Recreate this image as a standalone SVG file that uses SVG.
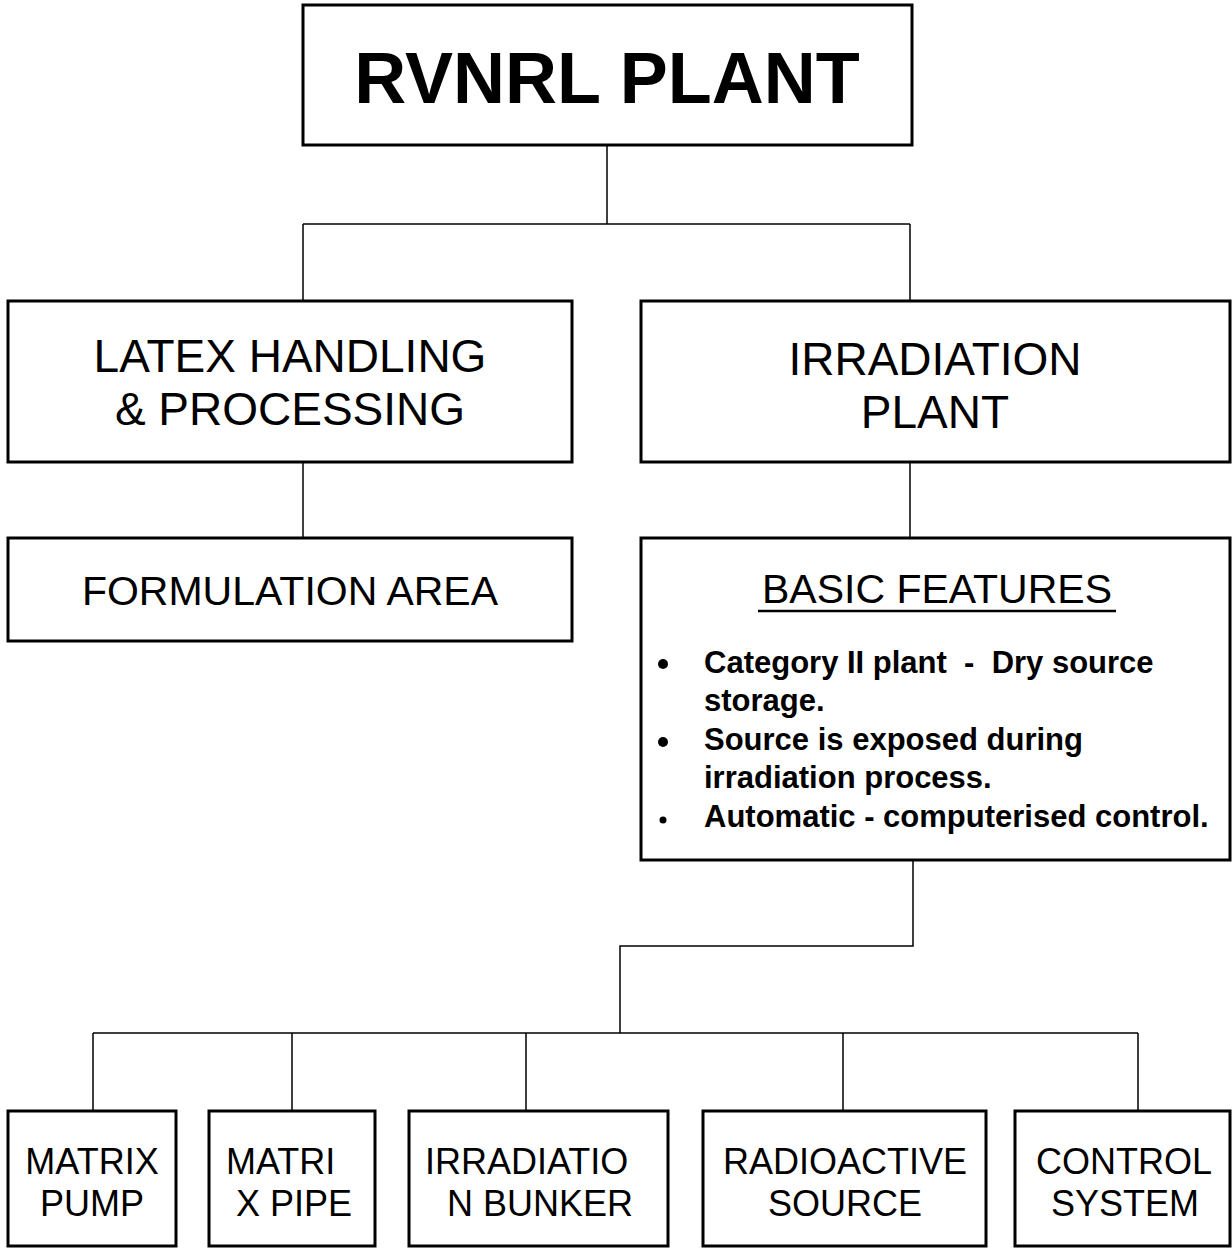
<svg xmlns="http://www.w3.org/2000/svg" width="1232" height="1249" viewBox="0 0 1232 1249">
<style>
.box{fill:#fff;stroke:#000;stroke-width:3}
.con{fill:none;stroke:#000;stroke-width:1.5}
text{font-family:"Liberation Sans",Arial,sans-serif;fill:#000}
.t46{font-size:46px;text-anchor:middle}
.t41{font-size:41px;text-anchor:middle}
.t36{font-size:36px}
.mid{text-anchor:middle}
.b31{font-size:31px;font-weight:bold}
</style>
<rect width="1232" height="1249" fill="#fff"/>
<g id="connectors">
<path class="con" d="M607 145V224M303 224H910M303 224V301M910 224V301"/>
<path class="con" d="M303 462V538"/>
<path class="con" d="M910 462V538"/>
<path class="con" d="M913 860V946H620V1033"/>
<path class="con" d="M93 1033H1138M93 1033V1111M292 1033V1111M526 1033V1111M843 1033V1111M1138 1033V1111"/>
</g>
<g id="rvnrl">
<rect class="box" x="303" y="5" width="609" height="140"/>
<text x="607" y="103" font-size="72" font-weight="bold" text-anchor="middle">RVNRL PLANT</text>
</g>
<g id="latex">
<rect class="box" x="8" y="301" width="564" height="161"/>
<text class="t46" x="290" y="372">LATEX HANDLING</text>
<text class="t46" x="290" y="425">&amp; PROCESSING</text>
</g>
<g id="irradiation-plant">
<rect class="box" x="641" y="301" width="589" height="161"/>
<text class="t46" x="935" y="375">IRRADIATION</text>
<text class="t46" x="935" y="428">PLANT</text>
</g>
<g id="formulation">
<rect class="box" x="8" y="538" width="564" height="103"/>
<text class="t41" x="290" y="605">FORMULATION AREA</text>
</g>
<g id="basic-features">
<rect class="box" x="641" y="538" width="589" height="322"/>
<text class="t41" x="937" y="603">BASIC FEATURES</text>
<line x1="758" y1="611" x2="1116" y2="611" stroke="#000" stroke-width="2.5"/>
<circle cx="663" cy="664" r="5"/>
<circle cx="663" cy="742" r="5"/>
<circle cx="663" cy="820" r="3.5"/>
<text class="b31" x="704" y="673" xml:space="preserve">Category II plant  -  Dry source</text>
<text class="b31" x="704" y="711">storage.</text>
<text class="b31" x="704" y="750">Source is exposed during</text>
<text class="b31" x="704" y="788">irradiation process.</text>
<text class="b31" x="704" y="827">Automatic - computerised control.</text>
</g>
<g id="matrix-pump">
<rect class="box" x="8" y="1111" width="168" height="135"/>
<text class="t36 mid" x="92" y="1174">MATRIX</text>
<text class="t36 mid" x="92" y="1216">PUMP</text>
</g>
<g id="matrix-pipe">
<rect class="box" x="209" y="1111" width="166" height="135"/>
<text class="t36" x="226" y="1174">MATRI</text>
<text class="t36" x="236" y="1216">X PIPE</text>
</g>
<g id="irradiation-bunker">
<rect class="box" x="409" y="1111" width="259" height="135"/>
<text class="t36" x="425" y="1174">IRRADIATIO</text>
<text class="t36" x="447" y="1216">N BUNKER</text>
</g>
<g id="radioactive-source">
<rect class="box" x="703" y="1111" width="283" height="135"/>
<text class="t36 mid" x="845" y="1174">RADIOACTIVE</text>
<text class="t36 mid" x="845" y="1216">SOURCE</text>
</g>
<g id="control-system">
<rect class="box" x="1015" y="1111" width="215" height="135"/>
<text class="t36 mid" x="1124" y="1174">CONTROL</text>
<text class="t36 mid" x="1125" y="1216">SYSTEM</text>
</g>
</svg>
